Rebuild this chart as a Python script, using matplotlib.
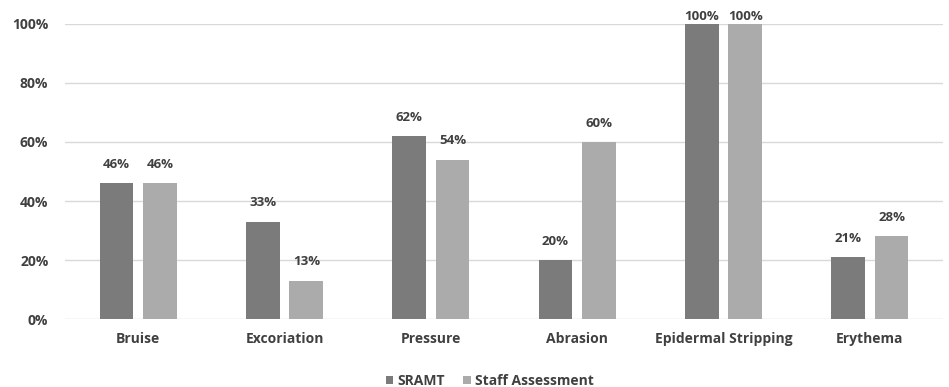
import matplotlib
matplotlib.use("Agg")
import matplotlib.pyplot as plt
import numpy as np

categories = ["Bruise", "Excoriation", "Pressure", "Abrasion", "Epidermal Stripping", "Erythema"]
sramt = [46, 33, 62, 20, 100, 21]
staff = [46, 13, 54, 60, 100, 28]
series_names = ["SRAMT", "Staff Assessment"]
yticks = [0, 20, 40, 60, 80, 100]

dark = "#7b7b7b"
light = "#ababab"
text_color = "#404040"
plt.rcParams["font.family"] = ["Open Sans", "DejaVu Sans"]

fig = plt.figure(figsize=(9.49, 3.87), dpi=100)
ax = fig.add_axes([0.0685, 0.1757, 0.9252, 0.7623])

x = np.arange(len(categories))
w = 0.23
off = 0.149
b1 = ax.bar(x - off, sramt, w, color=dark, label=series_names[0], zorder=3)
b2 = ax.bar(x + off, staff, w, color=light, label=series_names[1], zorder=3)

# value labels sit above each bar, but are kept inside the figure at the top
for bars, vals in ((b1, sramt), (b2, staff)):
    for rect, v in zip(bars, vals):
        ax.text(rect.get_x() + rect.get_width() / 2, min(v + 4.2, 100.4), f"{v}%",
                ha="center", va="bottom", fontsize=9.5, fontweight="bold",
                color=text_color)

ax.set_xlim(-0.5, len(categories) - 0.5)
ax.set_ylim(0, 100)
ax.set_yticks(yticks)
ax.set_yticklabels([f"{t}%" for t in yticks], fontsize=10, fontweight="bold", color=text_color)
ax.set_xticks(x)
ax.set_xticklabels(categories, fontsize=10, fontweight="bold", color=text_color)
ax.tick_params(axis="x", length=0, pad=9)
ax.tick_params(axis="y", length=0, pad=12)
ax.grid(axis="y", color="#d9d9d9", linewidth=1, zorder=0)
for s in ax.spines.values():
    s.set_visible(False)

leg = fig.legend(loc="lower center", bbox_to_anchor=(0.516, -0.034), ncol=2, frameon=False,
                 prop={"size": 10, "weight": "bold"}, handlelength=0.55, handleheight=0.55,
                 handletextpad=0.3, columnspacing=1.3)
for t in leg.get_texts():
    t.set_color(text_color)

fig.savefig("out.png", dpi=100)
